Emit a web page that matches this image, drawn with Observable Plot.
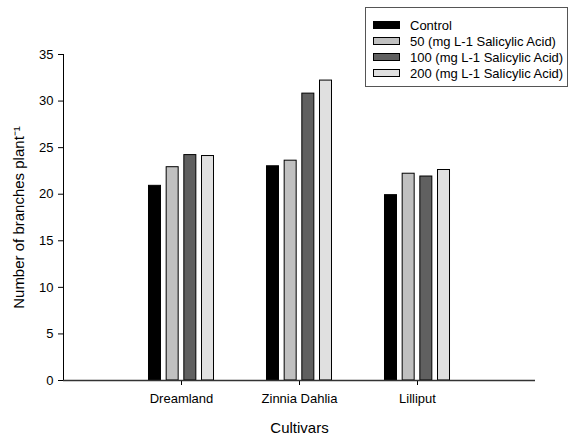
<!DOCTYPE html>
<html>
<head>
<meta charset="utf-8">
<script src="https://cdn.jsdelivr.net/npm/d3@7"></script>
<script src="https://cdn.jsdelivr.net/npm/@observablehq/plot@0.6"></script>
<style>
  html, body { margin: 0; padding: 0; background: #fff; }
  #chart { position: relative; width: 572px; height: 435px; font-family: "Liberation Sans", Arial, sans-serif; }
  #legend {
    position: absolute; left: 365px; top: 7px; width: 203px; height: 80px;
    border: 1px solid #555; background: #fff; box-sizing: border-box;
    padding: 9px 0 0 7px; font-size: 13px; color: #000;
  }
  .row { display: flex; align-items: center; height: 16px; }
  .sw { width: 27px; height: 8px; border: 1px solid #000; margin-right: 10px; box-sizing: border-box; }
</style>
</head>
<body>
<div id="chart"></div>
<script>
// Number of branches per plant by cultivar and salicylic acid treatment
const cultivars = ["Dreamland", "Zinnia Dahlia", "Lilliput"];
const treatments = [
  "Control",
  "50 (mg L-1 Salicylic Acid)",
  "100 (mg L-1 Salicylic Acid)",
  "200 (mg L-1 Salicylic Acid)"
];
const control = [20.9, 23.0, 19.9];
const sa50 = [22.9, 23.6, 22.2];
const sa100 = [24.2, 30.8, 21.9];
const sa200 = [24.1, 32.2, 22.6];
const yTicks = [0, 5, 10, 15, 20, 25, 30, 35];

const series = [control, sa50, sa100, sa200];
const fills = ["#000000", "#c0c0c0", "#606060", "#e0e0e0"];

// layout of the grouped bars inside each cultivar band
const bandWidth = 118, barWidth = 12, barStep = 17.67;
const groupLeft = bandWidth / 2 - (barWidth + barStep * 3) / 2;

const barMarks = series.map((values, k) => {
  const left = groupLeft + barStep * k;
  return Plot.barY(
    cultivars.map((c, i) => ({cultivar: c, treatment: treatments[k], value: values[i]})),
    {
      x: "cultivar", y: "value",
      fill: fills[k], stroke: "#000", strokeWidth: 1,
      insetLeft: left, insetRight: bandWidth - left - barWidth
    }
  );
});

const plot = Plot.plot({
  width: 572,
  height: 435,
  marginLeft: 63,
  marginRight: 37,
  marginTop: 54,
  marginBottom: 55,
  style: {fontFamily: "'Liberation Sans', Arial, sans-serif", fontSize: "13px", color: "#000", background: "#fff"},
  x: {
    domain: cultivars, paddingInner: 0, paddingOuter: 0.5,
    label: "Cultivars", labelAnchor: "center", labelOffset: 52,
    tickSize: 5, tickPadding: 8
  },
  y: {
    domain: [0, 35], ticks: yTicks, line: true,
    label: "Number of branches plant⁻¹", labelAnchor: "center", labelOffset: 50,
    labelArrow: "none",
    tickSize: 5, tickPadding: 5
  },
  marks: [
    ...barMarks,
    Plot.ruleY([0], {stroke: "#333", strokeWidth: 1.5})
  ]
});

// axis titles: larger type, no direction arrow
d3.select(plot).selectAll('g[aria-label$="axis label"]').attr("font-size", 15);
d3.select(plot).selectAll('g[aria-label="y-axis label"] text')
  .text(function() { return this.textContent.replace(/\s*[↑→←↓]\s*/g, ""); });
document.getElementById("chart").appendChild(plot);

// legend box in the upper right
const legend = d3.select("#chart").append("div").attr("id", "legend");
treatments.forEach((t, k) => {
  const row = legend.append("div").attr("class", "row");
  row.append("div").attr("class", "sw").style("background", fills[k]);
  row.append("span").text(t);
});
</script>
</body>
</html>
